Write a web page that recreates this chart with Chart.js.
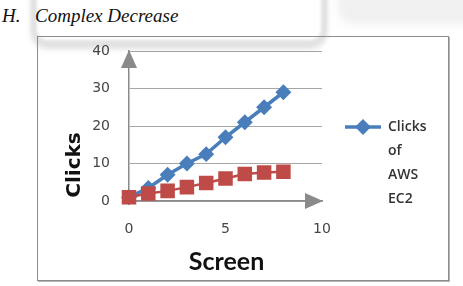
<!DOCTYPE html>
<html>
<head>
<meta charset="utf-8">
<script src="https://cdn.jsdelivr.net/npm/chart.js@4.4.1/dist/chart.umd.min.js"></script>
<style>
  html, body { margin: 0; padding: 0; background: #fff; }
  body { width: 463px; height: 286px; position: relative; overflow: hidden; }
  .mark-a {
    position: absolute; left: 31px; top: -34px; width: 284px; height: 68px;
    border: 6px solid #e2e2e2; border-radius: 16px;
    box-shadow: 0 3px 5px #e0e0e0; filter: blur(1.5px);
  }
  .mark-b {
    position: absolute; left: 338px; top: -14px; width: 140px; height: 38px;
    background: #f0f0f0; border-radius: 14px; filter: blur(4px);
  }
  .caption {
    position: absolute; top: 5px; font-family: "Liberation Serif", serif;
    font-style: italic; font-size: 19px; color: #111; white-space: nowrap;
  }
  .frame {
    position: absolute; left: 37px; top: 36px; width: 410px; height: 243px;
    border: 1px solid #8c8c8c; box-shadow: 1px 1px 0 #b5b5b5;
  }
  .chart-container { position: absolute; left: 0; top: 0; width: 463px; height: 286px; }
</style>
</head>
<body>
<div class="mark-a"></div>
<div class="mark-b"></div>
<span class="caption" style="left:2px">H.</span>
<span class="caption" style="left:35px">Complex Decrease</span>
<div class="frame"></div>
<div class="chart-container"><canvas id="chart" width="463" height="286"></canvas></div>
<script>
// Data
const screens = [0, 1, 2, 3, 4, 5, 6, 7, 8];
const clicksEc2 = [1, 3.5, 7, 10, 12.5, 17, 21, 25, 29];
const clicksOther = [1, 2, 2.7, 3.7, 4.8, 6, 7.2, 7.6, 7.8];
const xTicks = [0, 5, 10];
const yTicks = [0, 10, 20, 30, 40];
const seriesLabel = "Clicks of AWS EC2";
const xTitle = "Screen";
const yTitle = "Clicks";

const blue = "#4a7ebb";
const red = "#be4b48";
const axisGray = "#8a8a8a";
const tickColor = "#454545";

const toPoints = (ys) => screens.map((x, i) => ({ x: x, y: ys[i] }));

// Arrow heads, axis titles and the wrapped legend
const extras = {
  id: "extras",
  afterDraw: (chart) => {
    const ctx = chart.ctx;
    const area = chart.chartArea;
    ctx.save();

    ctx.fillStyle = axisGray;
    ctx.beginPath();
    ctx.moveTo(area.left, area.top - 1);
    ctx.lineTo(area.left - 8, area.top + 17);
    ctx.lineTo(area.left + 8, area.top + 17);
    ctx.closePath();
    ctx.fill();

    ctx.beginPath();
    ctx.moveTo(area.right + 1, area.bottom);
    ctx.lineTo(area.right - 17, area.bottom - 8);
    ctx.lineTo(area.right - 17, area.bottom + 8);
    ctx.closePath();
    ctx.fill();

    ctx.fillStyle = "#111";
    ctx.textAlign = "center";
    ctx.textBaseline = "alphabetic";
    ctx.font = "bold 25px Lato";
    ctx.fillText(xTitle, (area.left + area.right) / 2 + 1, 270);

    ctx.save();
    ctx.translate(80, 165);
    ctx.rotate(-Math.PI / 2);
    ctx.font = "bold 20px 'DejaVu Sans'";
    ctx.fillText(yTitle, 0, 0);
    ctx.restore();

    // legend
    const ds = chart.data.datasets[0];
    ctx.strokeStyle = ds.borderColor;
    ctx.lineWidth = 3.5;
    ctx.beginPath();
    ctx.moveTo(345, 127);
    ctx.lineTo(381, 127);
    ctx.stroke();
    Chart.helpers.drawPoint(ctx, { pointStyle: "rectRot", radius: 5.5, borderWidth: 1 }, 363, 127);
    ctx.fillStyle = ds.pointBackgroundColor;
    ctx.fill();

    ctx.fillStyle = "#333";
    ctx.textAlign = "left";
    ctx.font = "600 14px 'Open Sans'";
    seriesLabel.split(" ").forEach((word, i) => {
      ctx.fillText(word, 388, 131 + i * 24);
    });
    ctx.restore();
  },
};

const canvasCtx = document.querySelector("#chart").getContext("2d");

const chart = new Chart(canvasCtx, {
  type: "line",
  data: {
    datasets: [
      {
        label: seriesLabel,
        data: toPoints(clicksEc2),
        borderColor: blue,
        backgroundColor: blue,
        pointBackgroundColor: blue,
        pointBorderColor: blue,
        borderWidth: 3.5,
        pointStyle: "rectRot",
        pointRadius: 5.5,
        clip: false,
        order: 1,
      },
      {
        label: "Clicks",
        data: toPoints(clicksOther),
        borderColor: red,
        backgroundColor: red,
        pointBackgroundColor: red,
        pointBorderColor: red,
        borderWidth: 2.5,
        pointStyle: "rect",
        pointRadius: 8.5,
        clip: false,
        order: 0,
      },
    ],
  },
  plugins: [extras],
  options: {
    responsive: false,
    animation: false,
    layout: { padding: { top: 51, right: 141, left: 0, bottom: 0 } },
    plugins: {
      legend: { display: false },
      tooltip: { enabled: false },
    },
    scales: {
      x: {
        type: "linear",
        min: 0,
        max: 10,
        afterBuildTicks: (scale) => {
          scale.ticks = xTicks.map((v) => ({ value: v }));
        },
        afterFit: (scale) => {
          scale.height = 85;
        },
        grid: { display: false },
        border: { color: axisGray, width: 1.5 },
        ticks: {
          color: tickColor,
          font: { family: "DejaVu Sans", size: 14 },
          padding: 12,
          maxRotation: 0,
        },
      },
      y: {
        min: 0,
        max: 40,
        afterBuildTicks: (scale) => {
          scale.ticks = yTicks.map((v) => ({ value: v }));
        },
        afterFit: (scale) => {
          scale.width = 129;
        },
        grid: { color: "#a6a6a6", lineWidth: 1, drawTicks: false },
        border: { color: axisGray, width: 1.5 },
        ticks: {
          color: tickColor,
          font: { family: "DejaVu Sans", size: 14 },
          padding: 19,
        },
      },
    },
  },
});
</script>
</body>
</html>
